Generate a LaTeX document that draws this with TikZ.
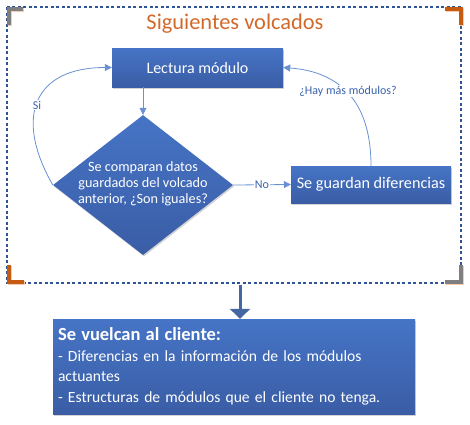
\documentclass[tikz,border=0pt]{standalone}
\usepackage{fontspec}
\setmainfont{Carlito}
\usetikzlibrary{shapes.geometric,arrows.meta,shadows}
\definecolor{boxtop}{HTML}{4674C6}
\definecolor{boxbot}{HTML}{3A5DA5}
\definecolor{conn}{HTML}{6A90D4}
\definecolor{lbl}{HTML}{3A62AE}
\definecolor{framec}{HTML}{2F5597}
\definecolor{ttl}{HTML}{D2692B}
\definecolor{brgrey}{HTML}{7F7F7F}
\definecolor{brorange}{HTML}{C55A11}
\definecolor{brshadow}{HTML}{F8CBAD}
\begin{document}
\begin{tikzpicture}[x=1pt,y=1pt,
  blockbox/.style={draw=none, top color=boxtop, bottom color=boxbot, text=white,
    inner sep=0pt, drop shadow={shadow xshift=1pt,shadow yshift=-1.5pt,opacity=0.35}},
  conline/.style={draw=conn, line width=0.8pt},
  conarrow/.style={conline, -{Triangle[length=7pt,width=7pt]}},
  lbltext/.style={text=lbl, fill=white, inner sep=1pt, font=\fontsize{12}{14}\selectfont},
  dashframe/.style={draw=framec, line width=1.1pt, dash pattern=on 3pt off 2.5pt},
  bracketg/.style={draw=brgrey, line width=4pt},
  bracketo/.style={draw=brorange, line width=4pt},
  bracketsh/.style={draw=brshadow, line width=4pt}
]
\useasboundingbox (0,0) rectangle (470,-424);

% dashed frame
\draw[dashframe] (7,-7) rectangle (461,-283);

% corner brackets (shadows first)
\draw[bracketsh] (9.5,-26) -- (9.5,-9.5) -- (24,-9.5);
\draw[bracketg] (8.5,-25) -- (8.5,-8.5) -- (23,-8.5);
\draw[bracketsh] (446,-9.5) -- (461.5,-9.5) -- (461.5,-26);
\draw[bracketo] (445,-8.5) -- (460.5,-8.5) -- (460.5,-25);
\draw[bracketsh] (9.5,-266) -- (9.5,-282.5) -- (25,-282.5);
\draw[bracketo] (8.5,-265) -- (8.5,-281.5) -- (24,-281.5);
\draw[bracketsh] (446,-282.5) -- (461.5,-282.5) -- (461.5,-266);
\draw[bracketg] (445,-281.5) -- (460.5,-281.5) -- (460.5,-265);

% title
\node[text=ttl, font=\fontsize{22.4}{26}\selectfont] (title) at (235,-24) {Siguientes volcados};

% blocks
\node[blockbox, minimum width=171pt, minimum height=39pt, font=\fontsize{16}{19}\selectfont]
  (lect) at (197.5,-67.5) {Lectura módulo};
\node[blockbox, diamond, minimum width=180pt, minimum height=140pt] (dia) at (143,-185) {};
\node[text=white, align=center, font=\fontsize{14.2}{16}\selectfont] (diatext) at (143,-184)
  {Se comparan datos\\guardados del volcado\\anterior, ¿Son iguales?};
\node[blockbox, minimum width=160pt, minimum height=37pt, font=\fontsize{16.2}{19}\selectfont]
  (guard) at (371,-184.5) {Se guardan diferencias};
\node[blockbox, minimum width=362pt, minimum height=95pt, text width=352pt, align=left,
  font=\fontsize{15.6}{20.5}\selectfont]
  (cliente) at (234,-366.5) {{\fontsize{18.5}{20.5}\selectfont\bfseries Se vuelcan al cliente:}\\- Diferencias en la información de los módulos\\actuantes\\- Estructuras de módulos que el cliente no tenga.};

% connectors
\draw[conarrow] (lect.south -| dia.north) -- (dia.north);
\draw[conarrow] (dia.east) -- (guard.west) node[midway, lbltext] (no) {No};
\draw[conarrow] (dia.west) .. controls +(-39,68) and +(-78,0) .. (lect.west);
\node[lbltext] (si) at (37,-105) {Si};
\draw[conarrow] (guard.north) .. controls +(0,66) and +(55,-4) .. (lect.east);
\node[lbltext] (hay) at (348,-91) {¿Hay más módulos?};

% big arrow
\coordinate (arrstart) at (240,-285);
\draw[draw=framec!90!white, line width=3pt, -{Triangle[length=10pt,width=20pt]}] (arrstart) -- (cliente.north -| arrstart);
\end{tikzpicture}
\end{document}
